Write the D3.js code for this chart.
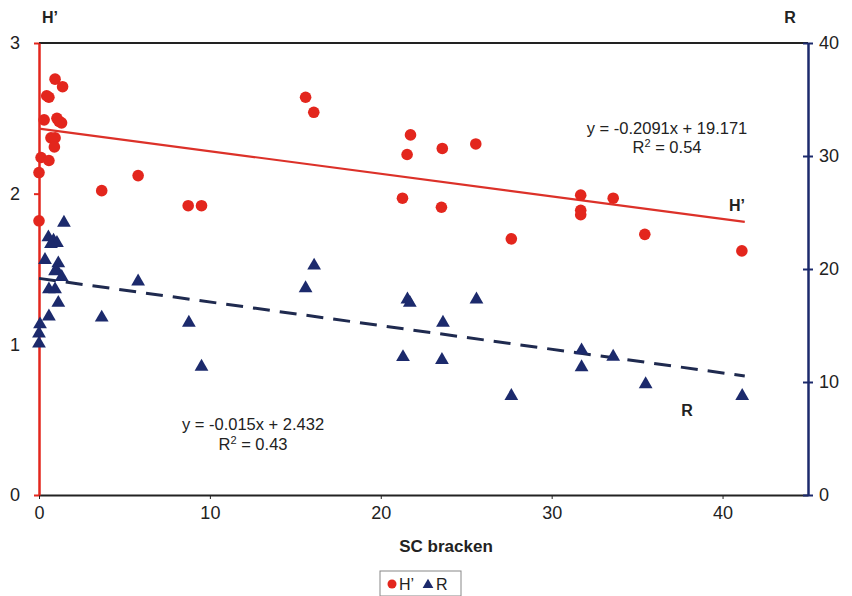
<!DOCTYPE html>
<html lang="en">

<head>
    <meta charset="UTF-8">
    <title>H' and R vs SC bracken</title>
    <style>
        body { margin: 0; background: #fff; }
        text { font-family: "Liberation Sans", Arial, sans-serif; fill: #222; }
    </style>
</head>

<body>
    <script src="https://cdn.jsdelivr.net/npm/d3@7"></script>
    <script>
        // H' (left axis) points
        const hX = [0.94, 1.38, 0.58, 0.45, 0.3, 1.05, 1.32, 1.17, 0.7, 0.94, 0.9, 0.12, 0.58, 0, 0,
            3.67, 5.8, 8.73, 9.51, 15.6, 16.08, 21.27, 21.54, 21.74, 23.55, 23.6, 25.56, 27.64,
            31.7, 31.7, 31.7, 33.6, 35.45, 41.13];
        const hVals = [2.76, 2.71, 2.64, 2.65, 2.49, 2.50, 2.47, 2.48, 2.37, 2.37, 2.31, 2.24, 2.22, 2.14, 1.82,
            2.02, 2.12, 1.92, 1.92, 2.64, 2.54, 1.97, 2.26, 2.39, 1.91, 2.30, 2.33, 1.70,
            1.99, 1.89, 1.86, 1.97, 1.73, 1.62];

        // R (right axis) points
        const rX = [1.46, 0.55, 0.85, 1.05, 0.7, 0.35, 1.13, 1.03, 1.33, 0.94, 0.58, 0.94, 1.13, 0.58, 0.06, 0, 0,
            3.67, 5.8, 8.77, 9.51, 15.6, 16.1, 21.3, 21.56, 21.7, 23.58, 23.64, 25.6, 27.64,
            31.75, 31.75, 33.6, 35.5, 41.15];
        const rVals = [24.1, 22.8, 22.5, 22.3, 22.2, 20.8, 20.5, 19.9, 19.3, 19.8, 18.2, 18.2, 17.0, 15.8, 15.1, 14.3, 13.4,
            15.7, 18.9, 15.25, 11.35, 18.3, 20.3, 12.2, 17.3, 17.0, 11.95, 15.25, 17.3, 8.76,
            12.8, 11.3, 12.24, 9.8, 8.76];

        // trend lines: [slope, intercept], as in the chart labels
        const hFit = [-0.015, 2.432];
        const rFit = [-0.2091, 19.171];
        const fitRange = [0, 41.3];

        const xTicks = [0, 10, 20, 30, 40];
        const hTicks = [0, 1, 2, 3];
        const rTicks = [0, 10, 20, 30, 40];

        const w = 852;
        const h = 596;
        const red = '#e3261d';
        const navy = '#1c2a6c';

        const xScale = d3.scaleLinear().domain([0, 45]).range([39, 808]);
        const yLeft = d3.scaleLinear().domain([0, 3]).range([495, 43]);
        const yRight = d3.scaleLinear().domain([0, 40]).range([495, 43]);

        const svg = d3.select('body')
            .append('svg')
            .attr('width', w)
            .attr('height', h);

        // top frame line
        svg.append('line')
            .attr('x1', 39).attr('x2', 808)
            .attr('y1', 43).attr('y2', 43)
            .attr('stroke', '#222').attr('stroke-width', 2);

        // bottom axis
        const gx = svg.append('g')
            .attr('transform', 'translate(0,495)')
            .call(d3.axisBottom(xScale).tickValues(xTicks).tickSize(4).tickSizeOuter(0).tickPadding(7));
        gx.select('.domain').attr('stroke', '#222').attr('stroke-width', 2);
        gx.selectAll('.tick line').attr('stroke', '#222');
        gx.selectAll('.tick text').attr('font-size', 18).attr('fill', '#333');

        // left axis (H')
        const gl = svg.append('g')
            .attr('transform', 'translate(39,0)')
            .call(d3.axisLeft(yLeft).tickValues(hTicks).tickFormat(d3.format('d'))
                .tickSize(5).tickSizeOuter(0).tickPadding(14));
        gl.select('.domain').attr('stroke', red).attr('stroke-width', 2.5);
        gl.selectAll('.tick line').attr('stroke', red).attr('stroke-width', 2);
        gl.selectAll('.tick text').attr('font-size', 18).attr('fill', '#333');

        // right axis (R)
        const gr = svg.append('g')
            .attr('transform', 'translate(808,0)')
            .call(d3.axisRight(yRight).tickValues(rTicks).tickSize(5).tickSizeOuter(0).tickPadding(6));
        gr.select('.domain').attr('stroke', navy).attr('stroke-width', 2.5);
        gr.selectAll('.tick line').attr('stroke', navy).attr('stroke-width', 2).attr('x1', -5);
        gr.selectAll('.tick text').attr('font-size', 18).attr('fill', '#333');

        // trend lines
        svg.append('line')
            .attr('x1', xScale(fitRange[0])).attr('x2', xScale(fitRange[1]))
            .attr('y1', yLeft(hFit[1] + hFit[0] * fitRange[0]))
            .attr('y2', yLeft(hFit[1] + hFit[0] * fitRange[1]))
            .attr('stroke', '#dc3129').attr('stroke-width', 2.2);

        svg.append('line')
            .attr('x1', xScale(fitRange[0])).attr('x2', xScale(fitRange[1]))
            .attr('y1', yRight(rFit[1] + rFit[0] * fitRange[0]))
            .attr('y2', yRight(rFit[1] + rFit[0] * fitRange[1]))
            .attr('stroke', '#1f2a4f').attr('stroke-width', 3)
            .attr('stroke-dasharray', '17,10');

        // points
        svg.selectAll('circle.h')
            .data(hX)
            .enter()
            .append('circle')
            .attr('class', 'h')
            .attr('cx', d => xScale(d))
            .attr('cy', (d, i) => yLeft(hVals[i]))
            .attr('r', 5.8)
            .attr('fill', red);

        const tri = d3.symbol().type(d3.symbolTriangle).size(82);
        svg.selectAll('path.r')
            .data(rX)
            .enter()
            .append('path')
            .attr('class', 'r')
            .attr('d', tri)
            .attr('transform', (d, i) => `translate(${xScale(d)},${yRight(rVals[i])})`)
            .attr('fill', navy);

        // labels
        svg.append('text').attr('x', 50).attr('y', 23).attr('text-anchor', 'middle')
            .attr('font-size', 16).attr('font-weight', 'bold').text('H\u2019');
        svg.append('text').attr('x', 790).attr('y', 23).attr('text-anchor', 'middle')
            .attr('font-size', 16).attr('font-weight', 'bold').text('R');

        svg.append('text').attr('x', 446).attr('y', 552).attr('text-anchor', 'middle')
            .attr('font-size', 17).attr('font-weight', 'bold').text('SC bracken');

        svg.append('text').attr('x', 737).attr('y', 211).attr('text-anchor', 'middle')
            .attr('font-size', 16).attr('font-weight', 'bold').text('H\u2019');
        svg.append('text').attr('x', 687).attr('y', 416).attr('text-anchor', 'middle')
            .attr('font-size', 16).attr('font-weight', 'bold').text('R');

        const eq1 = svg.append('text').attr('text-anchor', 'middle')
            .attr('font-size', 16.5).attr('fill', '#333');
        eq1.append('tspan').attr('x', 667).attr('y', 134).text('y = -0.2091x + 19.171');
        const r1 = eq1.append('tspan').attr('x', 667).attr('y', 153);
        r1.append('tspan').text('R');
        r1.append('tspan').attr('font-size', 11).attr('dy', -6).text('2');
        r1.append('tspan').attr('dy', 6).text(' = 0.54');

        const eq2 = svg.append('text').attr('text-anchor', 'middle')
            .attr('font-size', 16.5).attr('fill', '#333');
        eq2.append('tspan').attr('x', 253).attr('y', 430).text('y = -0.015x + 2.432');
        const r2 = eq2.append('tspan').attr('x', 253).attr('y', 450);
        r2.append('tspan').text('R');
        r2.append('tspan').attr('font-size', 11).attr('dy', -6).text('2');
        r2.append('tspan').attr('dy', 6).text(' = 0.43');

        // legend
        const lg = svg.append('g').attr('transform', 'translate(380,571)');
        lg.append('rect').attr('width', 81).attr('height', 25)
            .attr('fill', '#fff').attr('stroke', '#888');
        lg.append('circle').attr('cx', 12).attr('cy', 13).attr('r', 4.5).attr('fill', red);
        lg.append('text').attr('x', 19).attr('y', 19).attr('font-size', 16).text('H\u2019');
        lg.append('path').attr('d', d3.symbol().type(d3.symbolTriangle).size(50))
            .attr('transform', 'translate(48,14)').attr('fill', navy);
        lg.append('text').attr('x', 56).attr('y', 19).attr('font-size', 16).text('R');
    </script>
</body>

</html>
